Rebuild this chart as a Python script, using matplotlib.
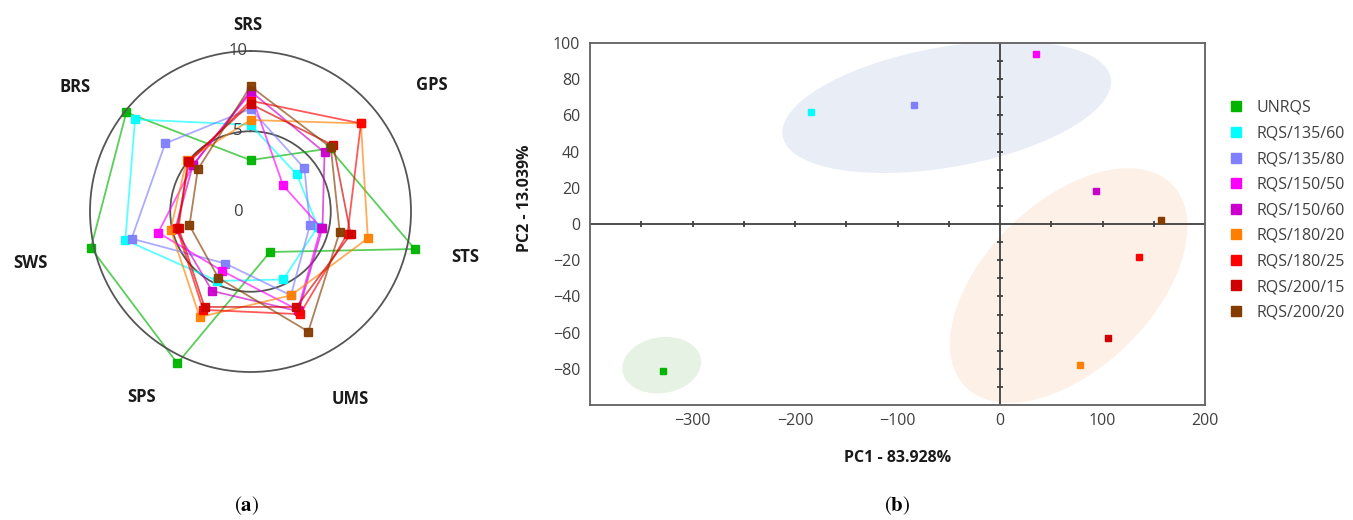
import numpy as np
import matplotlib
matplotlib.use('Agg')
import matplotlib.pyplot as plt
from matplotlib.patches import Ellipse
from matplotlib.lines import Line2D

plt.rcParams['font.family'] = ['Open Sans', 'DejaVu Sans']
plt.rcParams['mathtext.fontset'] = 'stix'

# ---- data ----
samples = ['UNRQS', 'RQS/135/60', 'RQS/135/80', 'RQS/150/50', 'RQS/150/60',
           'RQS/180/20', 'RQS/180/25', 'RQS/200/15', 'RQS/200/20']
colors = ['#00b400', '#00ffff', '#7f7fff', '#ff00ff', '#cc00cc',
          '#ff8000', '#ff0000', '#d00000', '#843c00']

# radar scores (a)
categories = ['SRS', 'GPS', 'STS', 'UMS', 'SPS', 'SWS', 'BRS']
unrqs = [3.2, 6.3, 10.5, 2.8, 10.5, 10.2, 9.9]
rqs_135_60 = [5.4, 3.7, 4.3, 4.7, 4.8, 8.0, 9.2]
rqs_135_80 = [6.4, 4.3, 3.8, 5.8, 3.6, 7.6, 6.8]
rqs_150_50 = [7.4, 2.6, 4.5, 6.8, 4.1, 5.9, 4.6]
rqs_150_60 = [7.5, 5.9, 4.6, 6.9, 5.5, 4.8, 4.6]
rqs_180_20 = [5.7, 8.8, 7.5, 5.8, 7.3, 5.1, 5.1]
rqs_180_25 = [6.9, 8.8, 6.2, 7.1, 6.8, 4.7, 4.9]
rqs_200_15 = [6.7, 6.6, 6.4, 6.6, 6.6, 4.6, 5.0]
rqs_200_20 = [7.8, 6.4, 5.7, 8.3, 4.6, 3.9, 4.2]
radar_values = [unrqs, rqs_135_60, rqs_135_80, rqs_150_50, rqs_150_60,
                rqs_180_20, rqs_180_25, rqs_200_15, rqs_200_20]

# PCA scores (b)
pc1 = [-329, -184, -84, 35, 94, 78, 136, 105, 157]
pc2 = [-81, 62, 66, 94, 18, -78, -18, -63, 2]

# group ellipses (centre x, centre y, width, height, angle)
ell_x = [-52, 67, -330]
ell_y = [64.6, -34, -78]
ell_w = [322, 243, 77]
ell_h = [67, 107, 31]
ell_ang = [5.2, 19.6, 3]
ell_colors = ['#e8edf6', '#fdf0e6', '#e6f2e4']

fig = plt.figure(figsize=(13.53, 5.2), dpi=100)

# ---- (a) radar ----
ax1 = fig.add_axes([90 / 1353, 1 - 372 / 520, 321 / 1353, 321 / 520], projection='polar')
ax1.set_theta_zero_location('N')
ax1.set_theta_direction(-1)
angles = np.linspace(0, 2 * np.pi, len(categories), endpoint=False)
closed = np.append(angles, angles[0])
for vals, c in zip(radar_values, colors):
    v = np.append(vals, vals[0])
    ax1.plot(closed, v, color=c, lw=1.3, alpha=0.65, clip_on=False)
    ax1.plot(angles, vals, ls='none', marker='s', ms=6, color=c, alpha=0.95, clip_on=False)
ax1.set_ylim(0, 10)
ax1.set_yticks([5])
ax1.set_yticklabels([])
ax1.set_xticks([])
ax1.yaxis.grid(True, color='#555555', lw=1.3)
ax1.spines['polar'].set_color('#555555')
ax1.spines['polar'].set_linewidth(1.3)
for r in [0, 5, 10]:
    ax1.annotate(str(r), xy=(0, r), xytext=(-9, 0), textcoords='offset points',
                 ha='center', va='center', fontsize=12, color='#404040')
label_pos = [(0.493, 1.081), (1.066, 0.894), (1.168, 0.358), (0.812, -0.084),
             (0.161, -0.079), (-0.187, 0.339), (-0.047, 0.887)]
for name, (lx, ly) in zip(categories, label_pos):
    ax1.text(lx, ly, name, transform=ax1.transAxes, ha='center', va='center',
             fontsize=12, fontweight='bold', color='#1a1a1a')

# ---- (b) PCA ----
ax2 = fig.add_axes([590 / 1353, 1 - 405 / 520, 615 / 1353, 362 / 520])
for x, y, w, h, a, c in zip(ell_x, ell_y, ell_w, ell_h, ell_ang, ell_colors):
    ax2.add_patch(Ellipse((x, y), w, h, angle=a, facecolor=c, edgecolor='none', zorder=0.5))

ax2.axhline(0, color='#404040', lw=1.3, zorder=1)
ax2.axvline(0, color='#404040', lw=1.3, zorder=1)
xcross = [-350, -300, -250, -200, -150, -100, -50, 50, 100, 150]
ycross = [-90, -80, -70, -60, -50, -40, -30, -20, -10, 10, 20, 30, 40, 50, 60, 70, 80, 90]
ax2.plot(xcross, [0] * len(xcross), ls='none', marker='|', ms=5, mew=1.3, color='#404040', zorder=1)
ax2.plot([0] * len(ycross), ycross, ls='none', marker='_', ms=5, mew=1.3, color='#404040', zorder=1)

for x, y, c in zip(pc1, pc2, colors):
    ax2.plot(x, y, ls='none', marker='s', ms=4.3, color=c, zorder=3)

ax2.set_xlim(-400, 200)
ax2.set_ylim(-100, 100)
ax2.set_xticks([-300, -200, -100, 0, 100, 200])
ax2.set_yticks([-80, -60, -40, -20, 0, 20, 40, 60, 80, 100])
ax2.tick_params(length=0, labelsize=11.5, labelcolor='#404040')
ax2.tick_params(axis='x', pad=6)
ax2.tick_params(axis='y', pad=7)
for s in ax2.spines.values():
    s.set_color('#606060')
    s.set_linewidth(1.3)
ax2.set_xlabel('PC1 - 83.928%', fontsize=11.5, fontweight='bold', color='#1a1a1a')
ax2.xaxis.set_label_coords(0.5, -0.125)
ax2.set_ylabel('PC2 - 13.039%', fontsize=11.5, fontweight='bold', color='#1a1a1a')
ax2.yaxis.set_label_coords(-0.093, 0.57)

handles = [Line2D([], [], ls='none', marker='s', ms=7.5, color=c) for c in colors]
fig.legend(handles, samples, loc='upper left', bbox_to_anchor=(1228 / 1353, 1 - 100 / 520),
           frameon=False, fontsize=11.5, labelcolor='#404040', handlelength=1.0,
           handletextpad=0.8, labelspacing=0.6, borderpad=0, borderaxespad=0)

fig.text(247 / 1353, 1 - 506 / 520, r'$\mathrm{(}\mathbf{a}\mathrm{)}$', fontsize=15, ha='center', va='center')
fig.text(897 / 1353, 1 - 506 / 520, r'$\mathrm{(}\mathbf{b}\mathrm{)}$', fontsize=15, ha='center', va='center')

fig.savefig('out.png', dpi=100)
